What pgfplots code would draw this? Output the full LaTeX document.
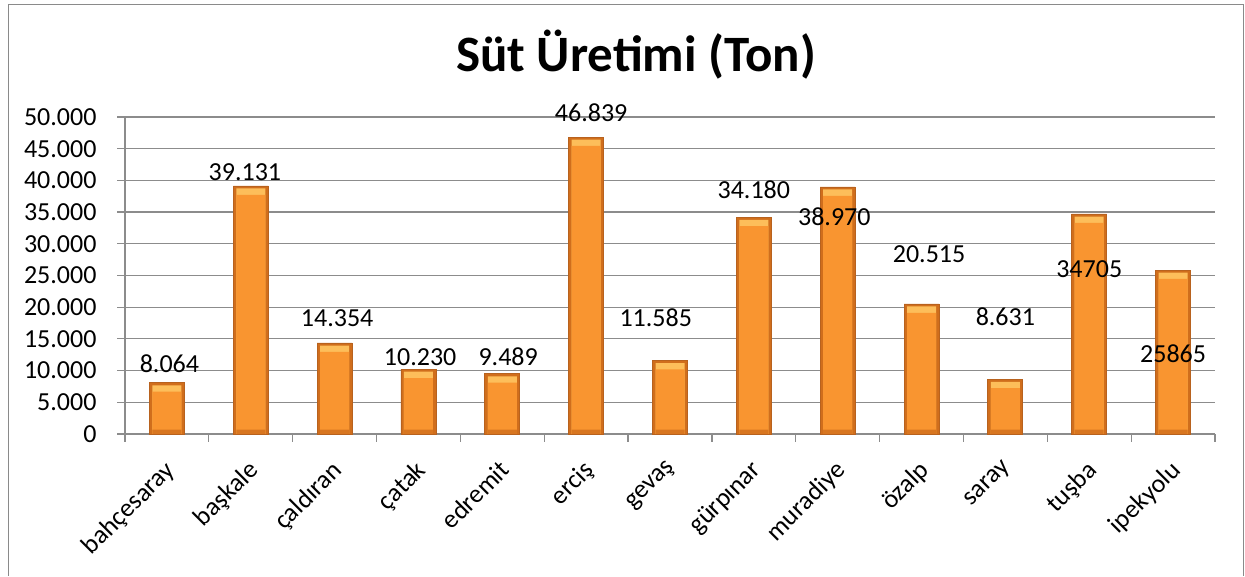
\documentclass[border=0pt]{standalone}
\usepackage{fontspec}
\setmainfont{Carlito}
\usepackage{pgfplots}
\pgfplotsset{compat=1.18}
\definecolor{gridgray}{HTML}{8C8C8C}
\definecolor{framegray}{HTML}{8A8A8A}
\definecolor{barmid}{HTML}{F99530}
\definecolor{baredge}{HTML}{D06E1C}
\definecolor{barline}{HTML}{B8621E}
\definecolor{bartop}{HTML}{FDBE5A}
\newcommand{\lf}{\fontsize{26bp}{31bp}\selectfont}
\begin{document}
\begin{tikzpicture}
\begin{axis}[
  scale only axis, width=1090bp, height=317bp,
  xmin=-0.5, xmax=12.5, ymin=0, ymax=50000,
  axis x line*=bottom, axis y line*=left,
  axis line style={-, draw=gridgray, line width=1.2bp},
  ytick={0,5000,...,50000},
  scaled y ticks=false,
  ymajorgrids, grid style={draw=gridgray, line width=1.2bp},
  tick align=outside,
  major tick length=8bp, minor tick length=8bp,
  tick style={draw=gridgray, line width=1.2bp},
  xtick={0,...,12},
  major x tick style={draw=none},
  minor xtick={-0.5,0.5,...,12.5},
  xticklabels={bahçesaray,başkale,çaldıran,çatak,edremit,erciş,gevaş,gürpınar,muradiye,özalp,saray,tuşba,ipekyolu},
  xticklabel style={font=\lf, xshift=-4bp, yshift=-12bp, rotate=45, anchor=north east},
  yticklabel style={font=\lf, xshift=-17bp},
  /pgf/number format/.cd, fixed, 1000 sep={.}, assume math mode=true,
  /pgfplots/.cd,
  clip=false,
]
% invisible page box and frame, title
\path (rel axis cs:-0.114679,-0.44795) rectangle (rel axis cs:1.027523,1.369085);
\draw[framegray, line width=1.5bp] (rel axis cs:-0.10688,-0.44795) -- (rel axis cs:-0.10688,1.35489) -- (rel axis cs:1.02615,1.35489) -- (rel axis cs:1.02615,-0.44795);
\node[font=\fontsize{51bp}{61bp}\selectfont\bfseries] at (rel axis cs:0.46881,1.19558) {Süt Üretimi (Ton)};
\addplot[ybar, bar shift=0pt, bar width=35bp, draw=barline, line width=0.8bp, fill=baredge]
  coordinates {(0,8064) (1,39131) (2,14354) (3,10230) (4,9489) (5,46839) (6,11585) (7,34180) (8,38970) (9,20515) (10,8631) (11,34705) (12,25865)};
\addplot[ybar, bar shift=0pt, bar width=29bp, draw=none, fill=bartop]
  coordinates {(0,7664) (1,38731) (2,13954) (3,9830) (4,9089) (5,46439) (6,11185) (7,33780) (8,38570) (9,20115) (10,8231) (11,34305) (12,25465)};
\addplot[ybar, bar shift=0pt, bar width=29bp, draw=none, fill=barmid]
  coordinates {(0,6664) (1,37731) (2,12954) (3,8830) (4,8089) (5,45439) (6,10185) (7,32780) (8,37570) (9,19115) (10,7231) (11,33305) (12,24465)};
\addplot[ybar, bar shift=0pt, bar width=29bp, draw=none, fill=baredge!80!barmid]
  coordinates {(0,700) (1,700) (2,700) (3,700) (4,700) (5,700) (6,700) (7,700) (8,700) (9,700) (10,700) (11,700) (12,700)};
\node[font=\lf] at (axis cs:0.03,11041) {8.064};
\node[font=\lf] at (axis cs:0.93,41325) {39.131};
\node[font=\lf] at (axis cs:2.03,18297) {14.354};
\node[font=\lf] at (axis cs:3.02,12145) {10.230};
\node[font=\lf] at (axis cs:4.07,12145) {9.489};
\node[font=\lf] at (axis cs:5.06,50630) {46.839};
\node[font=\lf] at (axis cs:5.83,18297) {11.585};
\node[font=\lf] at (axis cs:7.0,38486) {34.180};
\node[font=\lf] at (axis cs:7.96,34227) {38.970};
\node[font=\lf] at (axis cs:9.09,28391) {20.515};
\node[font=\lf] at (axis cs:10.0,18455) {8.631};
\node[font=\lf] at (axis cs:11.0,26025) {34705};
\node[font=\lf] at (axis cs:12.0,12618) {25865};
\end{axis}
\end{tikzpicture}
\end{document}
